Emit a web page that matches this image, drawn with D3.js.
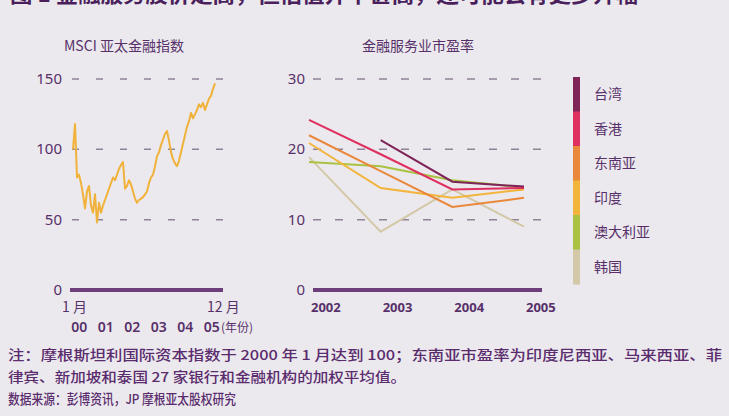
<!DOCTYPE html>
<html>
<head>
<meta charset="utf-8">
<script src="https://cdn.jsdelivr.net/npm/d3@7"></script>
<style>
  body { margin: 0; background: #ebe9ed; }
  svg { display: block; }
  text { font-family: "Noto Sans CJK SC", "Noto Sans", sans-serif; fill: #57306a; }
</style>
</head>
<body>
<script>
var w = 729;
var h = 416;

// MSCI 亚太金融指数, monthly Jan 2000 - Dec 2005
var msci = [100, 118, 80, 82, 76, 68, 58, 70, 74, 60, 55, 68,
            48, 62, 55, 60, 64, 68, 72, 76, 80, 78, 82, 86,
            89, 91, 72, 74, 78, 75, 70, 65, 62, 64, 65, 66,
            68, 70, 76, 80, 82, 88, 95, 98, 103, 107, 111, 113,
            106, 98, 93, 90, 88, 92, 98, 104, 110, 116, 120, 126,
            122, 125, 128, 132, 130, 133, 128, 132, 136, 138, 143, 147];
var leftTicks = [0, 50, 100, 150];
var yearLabels = ["00", "01", "02", "03", "04", "05"];

// 金融服务业市盈率
var years = [2002, 2003, 2004, 2005];
var rightTicks = [0, 10, 20, 30];
var markets = ["台湾", "香港", "东南亚", "印度", "澳大利亚", "韩国"];
var colors = ["#7e2459", "#df2f60", "#e9873a", "#f3b43c", "#a9c240", "#d3c8a8"];
var pe = [
  [null, 21.3, 15.4, 14.7],
  [24.2, 19.3, 14.3, 14.5],
  [22.0, 16.9, 11.8, 13.1],
  [20.9, 14.5, 13.1, 14.3],
  [18.2, 17.6, 15.6, 14.6],
  [18.9, 8.3, 14.3, 9.0]
];

var svg = d3.select("body").append("svg")
  .attr("width", w)
  .attr("height", h);

svg.append("rect").attr("width", w).attr("height", h).attr("fill", "#ebe9ed");

// title, cut by the top edge as in the scan
svg.append("text")
  .attr("x", 10).attr("y", 2)
  .attr("textLength", 628).attr("lengthAdjust", "spacingAndGlyphs")
  .style("font-size", "22px").style("font-weight", "bold").style("fill", "#4a1f5c")
  .text("图 1  金融服务股价走高，但估值并不甚高，还可能会有更多升幅");

// ---- left chart ----
var xl = d3.scaleLinear().domain([0, msci.length - 1]).range([73, 215]);
var yl = d3.scaleLinear().domain([0, 150]).range([290, 79]);

svg.append("text").attr("x", 64).attr("y", 51)
  .style("font-size", "14px").text("MSCI 亚太金融指数");

svg.selectAll(".lgrid").data(leftTicks.slice(1)).enter().append("line")
  .attr("x1", 72).attr("x2", 224)
  .attr("y1", function(d) { return yl(d); }).attr("y2", function(d) { return yl(d); })
  .style("stroke", "#8f8198").style("stroke-width", 1.5)
  .style("stroke-dasharray", "7,17");

svg.selectAll(".llab").data(leftTicks).enter().append("text")
  .attr("x", 62).attr("y", function(d) { return yl(d) + 5; })
  .attr("text-anchor", "end")
  .style("font-size", "15px").style("font-family", "Noto Sans, sans-serif")
  .text(function(d) { return d; });

svg.append("line").attr("x1", 70).attr("x2", 223).attr("y1", yl(0)).attr("y2", yl(0))
  .style("stroke", "#6e3d7c").style("stroke-width", 4);

var lineL = d3.line()
  .x(function(d, i) { return xl(i); })
  .y(function(d) { return yl(d); });

svg.append("path").datum(msci)
  .attr("d", lineL)
  .style("fill", "none").style("stroke", "#f0b23a").style("stroke-width", 2)
  .style("stroke-linejoin", "round");

svg.append("text").attr("x", 62).attr("y", 312).style("font-size", "14px").text("1 月");
svg.append("text").attr("x", 207).attr("y", 312).style("font-size", "14px").text("12 月");

var xy = d3.scaleBand().domain(yearLabels).range([66, 225]);
svg.selectAll(".ylab").data(yearLabels).enter().append("text")
  .attr("x", function(d) { return xy(d) + xy.bandwidth() / 2; })
  .attr("y", 332).attr("text-anchor", "middle")
  .style("font-size", "14px").style("font-weight", "600").style("font-family", "Noto Sans, sans-serif")
  .text(function(d) { return d; });
svg.append("text").attr("x", 221).attr("y", 332).style("font-size", "12px").text("(年份)");

// ---- right chart ----
var xr = d3.scaleLinear().domain([2002, 2005]).range([309, 524]);
var yr = d3.scaleLinear().domain([0, 30]).range([290, 79]);

svg.append("text").attr("x", 418).attr("y", 51).attr("text-anchor", "middle")
  .style("font-size", "14px").text("金融服务业市盈率");

svg.selectAll(".rgrid").data(rightTicks.slice(1)).enter().append("line")
  .attr("x1", 313).attr("x2", 542)
  .attr("y1", function(d) { return yr(d); }).attr("y2", function(d) { return yr(d); })
  .style("stroke", "#8f8198").style("stroke-width", 1.5)
  .style("stroke-dasharray", "8,14");

svg.selectAll(".rlab").data(rightTicks).enter().append("text")
  .attr("x", 305).attr("y", function(d) { return yr(d) + 5; })
  .attr("text-anchor", "end")
  .style("font-size", "15px").style("font-family", "Noto Sans, sans-serif")
  .text(function(d) { return d; });

svg.append("line").attr("x1", 313).attr("x2", 542).attr("y1", yr(0)).attr("y2", yr(0))
  .style("stroke", "#6e3d7c").style("stroke-width", 4);

svg.selectAll(".xlab").data(years).enter().append("text")
  .attr("x", function(d) { return xr(d) + 2; })
  .attr("y", 312)
  .style("font-size", "13px").style("font-weight", "bold").style("font-family", "Noto Sans, sans-serif")
  .text(function(d) { return d; });

var lineR = d3.line()
  .defined(function(d) { return d != null; })
  .x(function(d, i) { return xr(years[i]); })
  .y(function(d) { return yr(d); });

// draw from back (韩国) to front (台湾)
var order = d3.range(markets.length).reverse();
svg.selectAll(".pe").data(order).enter().append("path")
  .attr("d", function(k) { return lineR(pe[k]); })
  .style("fill", "none")
  .style("stroke", function(k) { return colors[k]; })
  .style("stroke-width", 2);

// legend
var ly = d3.scaleBand().domain(markets).range([77, 284]);
svg.selectAll(".lgbar").data(markets).enter().append("rect")
  .attr("x", 573).attr("width", 7)
  .attr("y", function(d) { return ly(d); })
  .attr("height", ly.bandwidth() + 0.5)
  .style("fill", function(d, i) { return colors[i]; });
svg.selectAll(".lgtext").data(markets).enter().append("text")
  .attr("x", 594)
  .attr("y", function(d) { return ly(d) + ly.bandwidth() / 2 + 5; })
  .style("font-size", "14px")
  .text(function(d) { return d; });

// notes
var notes = [
  "注：摩根斯坦利国际资本指数于 2000 年 1 月达到 100；东南亚市盈率为印度尼西亚、马来西亚、菲",
  "律宾、新加坡和泰国 27 家银行和金融机构的加权平均值。",
  "数据来源：彭博资讯，JP 摩根亚太股权研究"
];
var noteLen = [714, 398, 228];
svg.selectAll(".note").data(notes).enter().append("text")
  .attr("x", 8)
  .attr("y", function(d, i) { return 360 + i * 22; })
  .attr("textLength", function(d, i) { return noteLen[i]; })
  .attr("lengthAdjust", "spacingAndGlyphs")
  .style("font-size", "13.5px").style("font-weight", "500").style("fill", "#5a2c6e")
  .text(function(d) { return d; });
</script>
</body>
</html>
